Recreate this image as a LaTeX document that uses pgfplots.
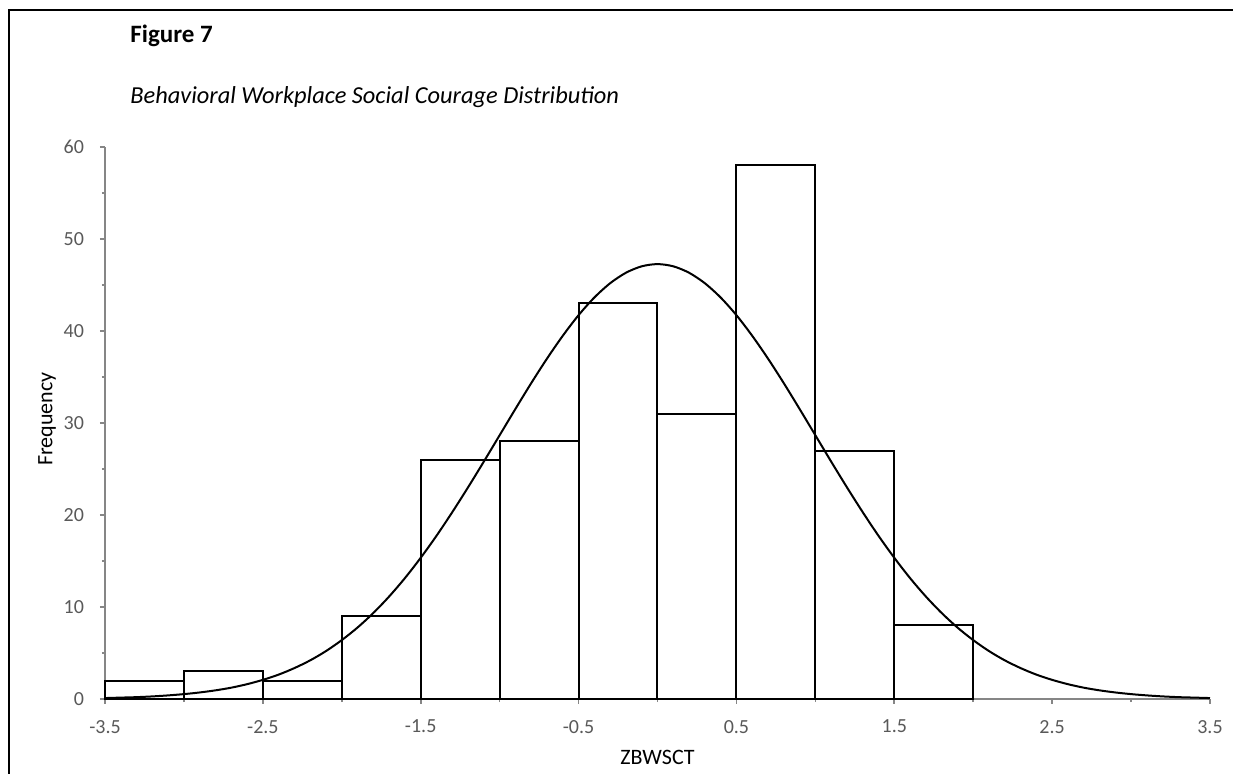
\documentclass[border=0pt]{standalone}
\usepackage{pgfplots}
\pgfplotsset{compat=1.18}
\usepackage{fontspec}
\setmainfont{Carlito}
\definecolor{axgray}{RGB}{134,134,134}
\definecolor{lblgray}{RGB}{89,89,89}
\begin{document}
\begin{tikzpicture}[x=0.5pt,y=0.5pt]
\begin{axis}[
  scale only axis, width=552.5pt, height=276pt,
  xmin=-3.5, xmax=3.5, ymin=0, ymax=60,
  enlargelimits=false, clip=false,
  axis x line=bottom, axis y line=left,
  axis line style={-, axgray, line width=0.9pt},
  xtick={-3.5,-2.5,-1.5,-0.5,0.5,1.5,2.5,3.5},
  xticklabels={-3.5,-2.5,-1.5,-0.5,0.5,1.5,2.5,3.5},
  minor xtick={-3,-2,-1,0,1,2,3},
  ytick={0,10,20,30,40,50,60},
  minor ytick={5,15,25,35,45,55},
  tick align=outside,
  major tick length=2.5pt, minor tick length=1.6pt,
  every tick/.style={axgray, line width=0.8pt},
  /pgf/number format/assume math mode=true,
  tick label style={font=\fontsize{10}{12}\selectfont, text=lblgray},
  xticklabel style={yshift=-4.5pt},
  yticklabel style={xshift=-4.5pt},
  xlabel={ZBWSCT}, ylabel={Frequency},
  label style={font=\fontsize{11}{13}\selectfont, text=black},
  xlabel style={at={(axis description cs:0.5,0)}, anchor=center, yshift=-29pt},
  ylabel style={at={(axis description cs:0,0.5)}, anchor=center, yshift=29pt, xshift=2pt},
]
\coordinate (O) at (rel axis cs:0,0);
\addplot[ybar interval, draw=black, fill=none, line width=1pt] coordinates {
  (-3.5,2) (-3.0,3) (-2.5,2) (-2.0,9) (-1.5,26) (-1.0,28) (-0.5,43)
  (0.0,31) (0.5,58) (1.0,27) (1.5,8) (2.0,0)
};
\addplot[black, line width=1pt, smooth, no marks] coordinates {
  (-3.5,0.10) (-3.4,0.15) (-3.3,0.20) (-3.2,0.28) (-3.1,0.39) (-3.0,0.53)
  (-2.9,0.71) (-2.8,0.94) (-2.7,1.23) (-2.6,1.61) (-2.5,2.08) (-2.4,2.65)
  (-2.3,3.36) (-2.2,4.20) (-2.1,5.21) (-2.0,6.40) (-1.9,7.77) (-1.8,9.35)
  (-1.7,11.14) (-1.6,13.14) (-1.5,15.35) (-1.4,17.74) (-1.3,20.31) (-1.2,23.01)
  (-1.1,25.81) (-1.0,28.67) (-0.9,31.53) (-0.8,34.33) (-0.7,37.00) (-0.6,39.48)
  (-0.5,41.72) (-0.4,43.64) (-0.3,45.19) (-0.2,46.33) (-0.1,47.03) (0.0,47.27)
  (0.1,47.03) (0.2,46.33) (0.3,45.19) (0.4,43.64) (0.5,41.72) (0.6,39.48)
  (0.7,37.00) (0.8,34.33) (0.9,31.53) (1.0,28.67) (1.1,25.81) (1.2,23.01)
  (1.3,20.31) (1.4,17.74) (1.5,15.35) (1.6,13.14) (1.7,11.14) (1.8,9.35)
  (1.9,7.77) (2.0,6.40) (2.1,5.21) (2.2,4.20) (2.3,3.36) (2.4,2.65)
  (2.5,2.08) (2.6,1.61) (2.7,1.23) (2.8,0.94) (2.9,0.71) (3.0,0.53)
  (3.1,0.39) (3.2,0.28) (3.3,0.20) (3.4,0.15) (3.5,0.10)
};
\end{axis}
\pgfresetboundingbox
\begin{scope}[shift={(O)}]
\useasboundingbox (-105,-75) rectangle (1128,699);
\draw[line width=1pt] (-96,-75) -- (-96,689) -- (1128,689);
\node[anchor=base west, inner sep=0, font=\fontsize{12.5}{15}\selectfont\bfseries] at (25,656) {Figure 7};
\node[anchor=base west, inner sep=0, font=\fontsize{12.2}{14}\selectfont\itshape] at (25,595) {Behavioral Workplace Social Courage Distribution};
\end{scope}
\end{tikzpicture}
\end{document}
